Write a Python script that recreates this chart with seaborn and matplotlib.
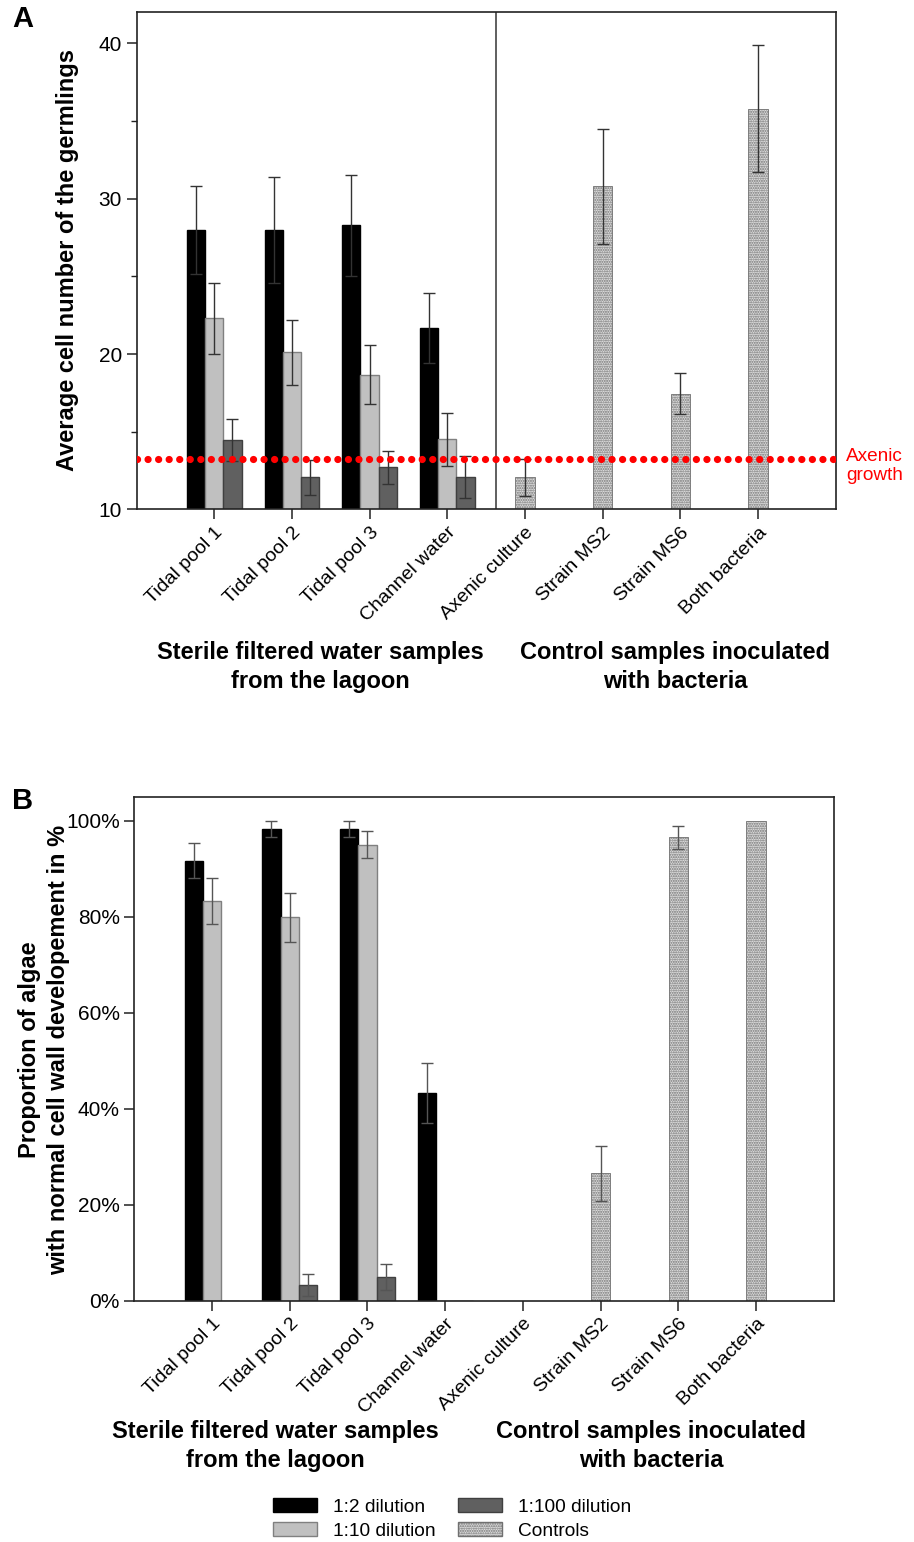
import pandas as pd
import numpy as np
import matplotlib
matplotlib.use("Agg")
import matplotlib.pyplot as plt
import matplotlib.ticker as mticker
from matplotlib.patches import Patch
import seaborn as sns

sns.set_style("white")
plt.rcParams['font.family'] = ['Liberation Sans', 'DejaVu Sans']
plt.rcParams['text.color'] = 'black'
plt.rcParams['xtick.color'] = 'black'
plt.rcParams['ytick.color'] = 'black'

# categories
water_samples = ["Tidal pool 1", "Tidal pool 2", "Tidal pool 3", "Channel water"]
control_samples = ["Axenic culture", "Strain MS2", "Strain MS6", "Both bacteria"]
samples = water_samples + control_samples
dilutions = ["1:2 dilution", "1:10 dilution", "1:100 dilution"]

# panel A - average cell number (mean, SD)
cells_12 = [28.0, 28.0, 28.3, 21.7]
cells_12_err = [2.85, 3.4, 3.25, 2.25]
cells_110 = [22.3, 20.1, 18.65, 14.5]
cells_110_err = [2.3, 2.1, 1.9, 1.7]
cells_1100 = [14.45, 12.05, 12.7, 12.1]
cells_1100_err = [1.35, 1.15, 1.05, 1.35]
cells_ctrl = [12.05, 30.8, 17.45, 35.8]
cells_ctrl_err = [1.2, 3.7, 1.3, 4.1]
axenic_level = 13.22

# panel B - proportion with normal cell wall development (%)
prop_12 = [91.7, 98.3, 98.3, 43.3]
prop_12_err = [3.6, 1.7, 1.7, 6.3]
prop_110 = [83.3, 79.9, 95.0, 0]
prop_110_err = [4.8, 5.1, 2.8, 0]
prop_1100 = [0, 3.3, 5.0, 0]
prop_1100_err = [0, 2.3, 2.7, 0]
prop_ctrl = [0, 26.5, 96.6, 100]
prop_ctrl_err = [0, 5.7, 2.4, 0]

bar_colors = ["#000000", "#c0c0c0", "#606060"]
bar_edges = ["#000000", "#808080", "#404040"]
ctrl_face = "#dedede"
ctrl_edge = "#707070"


def make_frames(v12, e12, v110, e110, v1100, e1100, vc, ec):
    water = pd.DataFrame({
        "sample": water_samples * 3,
        "dilution": [d for d in dilutions for _ in water_samples],
        "value": v12 + v110 + v1100,
        "err": e12 + e110 + e1100,
    })
    ctrl = pd.DataFrame({"sample": control_samples, "value": vc, "err": ec})
    return water, ctrl


def draw_panel(ax, water, ctrl, err_color):
    sns.barplot(data=water, x="sample", y="value", hue="dilution",
                order=samples, hue_order=dilutions, palette=bar_colors,
                width=0.705, saturation=1, errorbar=None, legend=False, ax=ax)
    n_water = len(ax.containers)
    sns.barplot(data=ctrl, x="sample", y="value", order=samples,
                color=ctrl_face, width=0.25, saturation=1, errorbar=None, ax=ax)
    bar_conts = list(ax.containers)

    for i, cont in enumerate(bar_conts[:n_water]):
        for p in cont:
            p.set_edgecolor(bar_edges[i])
            p.set_linewidth(1)
    for p in bar_conts[n_water]:
        p.set_hatch(".......")
        p.set_edgecolor(ctrl_edge)
        p.set_linewidth(0.6)

    # error bars, placed on the drawn bars
    for i, cont in enumerate(bar_conts):
        if i < n_water:
            sub = water[water["dilution"] == dilutions[i]].set_index("sample")
        else:
            sub = ctrl.set_index("sample")
        xs, ys, es = [], [], []
        for p in cont:
            xc = p.get_x() + p.get_width() / 2
            name = samples[int(round(xc))]
            if name not in sub.index:
                continue
            e = sub.loc[name, "err"]
            if e > 0:
                xs.append(xc)
                ys.append(sub.loc[name, "value"])
                es.append(e)
        ax.errorbar(xs, ys, yerr=es, fmt="none", ecolor=err_color,
                    elinewidth=1, capsize=4, capthick=1, zorder=3)

    ax.set_xlim(-1, 8)
    ax.set_xlabel("")
    ax.set_ylabel("")
    for s in ax.spines.values():
        s.set_visible(True)
        s.set_color("#222222")
        s.set_linewidth(1.2)
    ax.tick_params(axis="both", direction="out", length=7, width=1.1,
                   color="#222222", labelsize=15, left=True, bottom=True)
    ax.tick_params(axis="y", which="minor", direction="out", length=4,
                   width=1, color="#222222", left=True)
    ax.set_xticks(range(len(samples)))
    ax.set_xticklabels(samples, rotation=45, ha="right",
                       rotation_mode="anchor", fontsize=14)


fig = plt.figure(figsize=(9.14, 15.42), dpi=100)

# ---- panel A
axA = fig.add_axes([0.1494, 0.6697, 0.7648, 0.3223])
waterA, ctrlA = make_frames(cells_12, cells_12_err, cells_110, cells_110_err,
                            cells_1100, cells_1100_err, cells_ctrl, cells_ctrl_err)
draw_panel(axA, waterA, ctrlA, "#333333")
axA.set_ylim(10, 42)
axA.set_yticks([10, 20, 30, 40])
axA.yaxis.set_minor_locator(mticker.MultipleLocator(5))
axA.axvline(3.63, color="#444444", lw=1.2)
axA.axhline(axenic_level, color="red", lw=5.2, linestyle=(0, (0.01, 1.45)),
            dash_capstyle="round", zorder=5)
fig.text(846 / 914, 1 - 466 / 1542, "Axenic\ngrowth", color="red",
         fontsize=13.7, ha="left", va="center", linespacing=1.15)

# ---- panel B
axB = fig.add_axes([0.1469, 0.1565, 0.7655, 0.3268])
waterB, ctrlB = make_frames(prop_12, prop_12_err, prop_110, prop_110_err,
                            prop_1100, prop_1100_err, prop_ctrl, prop_ctrl_err)
draw_panel(axB, waterB, ctrlB, "#555555")
axB.set_ylim(0, 105)
axB.set_yticks([0, 20, 40, 60, 80, 100])
axB.yaxis.set_major_formatter(mticker.FuncFormatter(lambda v, p: f"{v:.0f}%"))

# ---- texts
fig.text(12 / 914, 1 - 19 / 1542, "A", fontsize=21, fontweight="bold",
         ha="left", va="center")
fig.text(12 / 914, 1 - 801 / 1542, "B", fontsize=21, fontweight="bold",
         ha="left", va="center")
fig.text(68 / 914, 1 - 260 / 1542, "Average cell number of the germlings",
         rotation=90, fontsize=17, fontweight="bold", ha="center", va="center")
fig.text(44 / 914, 1 - 1050 / 1542,
         "Proportion of algae\nwith normal cell wall developement in %",
         rotation=90, fontsize=17, fontweight="bold", ha="center",
         va="center", linespacing=1.35)

group_kw = dict(fontsize=17, fontweight="bold", ha="center", va="center",
                linespacing=1.35)
fig.text(320 / 914, 1 - 667 / 1542,
         "Sterile filtered water samples\nfrom the lagoon", **group_kw)
fig.text(675 / 914, 1 - 667 / 1542,
         "Control samples inoculated\nwith bacteria", **group_kw)
fig.text(275 / 914, 1 - 1446 / 1542,
         "Sterile filtered water samples\nfrom the lagoon", **group_kw)
fig.text(651 / 914, 1 - 1446 / 1542,
         "Control samples inoculated\nwith bacteria", **group_kw)

# ---- legend
handles = [Patch(facecolor=bar_colors[0], edgecolor=bar_edges[0], label=dilutions[0]),
           Patch(facecolor=bar_colors[1], edgecolor=bar_edges[1], label=dilutions[1]),
           Patch(facecolor=bar_colors[2], edgecolor=bar_edges[2], label=dilutions[2]),
           Patch(facecolor=ctrl_face, edgecolor=ctrl_edge, hatch=".......",
                 label="Controls")]
fig.legend(handles=handles, ncol=2, loc="center", frameon=False,
           bbox_to_anchor=(452 / 914, 1 - 1519 / 1542), fontsize=13.8,
           handlelength=2.3, handleheight=0.75, columnspacing=1.2,
           handletextpad=0.8, labelspacing=0.35)

fig.savefig("out.png", dpi=100)
